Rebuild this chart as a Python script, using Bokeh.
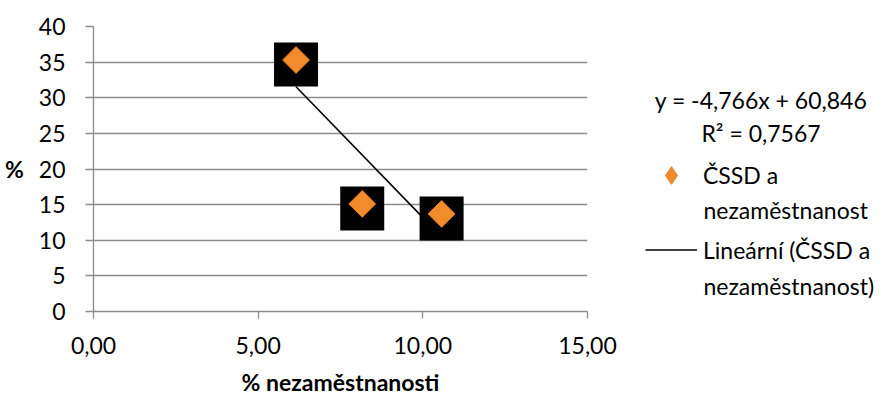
import math
from bokeh.plotting import figure
from bokeh.layouts import row
from bokeh.models import Range1d, FixedTicker, Legend, LegendItem, Label, ColumnDataSource
from bokeh.transform import dodge
from bokeh.core.properties import value
from bokeh.embed import file_html
from bokeh.resources import INLINE

# ---- data ----
unemployment = [6.15, 8.16, 10.57]        # % nezaměstnanosti
cssd_share = [35.3, 15.1, 13.7]           # %
trend_slope = -4.766
trend_intercept = 60.846
r_squared = 0.7567
x_ticks = [0, 5, 10, 15]
y_ticks = [0, 5, 10, 15, 20, 25, 30, 35, 40]
series_name = "ČSSD a nezaměstnanost"
x_title = "% nezaměstnanosti"
y_title = "%"

FONT = "Lato"
FS = "23px"
GRAY = "#8c8c8c"
ORANGE = "#f18b2b"
ORANGE_EDGE = "#e07b22"
H = 397
TOP, FRAME_H = 26, 285
FB = TOP + FRAME_H          # screen y of the (shared) frame bottom


def cz(v, d):
    return f"{v:.{d}f}".replace(".", ",")


# ---------------- main chart ----------------
p = figure(frame_width=494, frame_height=FRAME_H,
           x_range=Range1d(x_ticks[0], x_ticks[-1]), y_range=Range1d(y_ticks[0], y_ticks[-1]),
           output_backend="svg", toolbar_location=None,
           min_border_left=93, min_border_right=40, min_border_top=TOP, min_border_bottom=H - FB)
p.outline_line_color = None
p.background_fill_color = "white"
p.border_fill_color = "white"

p.xgrid.visible = False
p.ygrid.ticker = FixedTicker(ticks=y_ticks)
p.ygrid.grid_line_color = GRAY
p.ygrid.grid_line_width = 1.3

p.xaxis.ticker = FixedTicker(ticks=x_ticks)
p.xaxis.major_label_overrides = {t: cz(t, 2) for t in x_ticks}
p.yaxis.ticker = FixedTicker(ticks=y_ticks)
p.yaxis.major_label_overrides = {t: str(t) for t in y_ticks}
for ax in (p.xaxis, p.yaxis):
    ax.axis_line_color = GRAY
    ax.axis_line_width = 1.3
    ax.major_tick_line_color = GRAY
    ax.major_tick_line_width = 1.3
    ax.major_tick_in = 0
    ax.minor_tick_line_color = None
    ax.major_label_text_font = FONT
    ax.major_label_text_font_size = FS
    ax.major_label_text_color = "black"
    ax.axis_label_text_font = FONT
    ax.axis_label_text_font_size = FS
    ax.axis_label_text_font_style = "bold"
    ax.axis_label_text_color = "black"
p.xaxis.major_tick_out = 7
p.yaxis.major_tick_out = 8
p.xaxis.major_label_standoff = 18
p.yaxis.major_label_standoff = 20
p.xaxis.axis_label = x_title
p.xaxis.axis_label_standoff = 11
p.yaxis.axis_label = y_title
p.yaxis.axis_label_standoff = 12
if "axis_label_orientation" in p.yaxis[0].properties():
    p.yaxis.axis_label_orientation = "horizontal"

src = ColumnDataSource(dict(x=unemployment, y=cssd_share))
tx = [min(unemployment), max(unemployment)]
p.line(x=tx, y=[trend_slope * v + trend_intercept for v in tx], line_color="black", line_width=1.6)
p.scatter(x="x", y=dodge("y", -0.63, range=p.y_range), source=src, marker="square",
          size=44, fill_color="black", line_color=None)
p.scatter(x="x", y="y", source=src, marker="square", angle=math.pi / 4, size=19,
          fill_color=ORANGE, line_color=ORANGE_EDGE, line_width=1)

# ---------------- legend / equation panel ----------------
# (its frame is aligned with the main frame: screen y TOP..FB)
W2 = 891 - (93 + 494 + 40)
q = figure(width=W2, height=H, x_range=Range1d(0, 1), y_range=Range1d(0, 1),
           x_axis_location=None, y_axis_location=None,
           output_backend="svg", toolbar_location=None,
           min_border_left=0, min_border_right=0, min_border_top=0, min_border_bottom=0)
q.grid.visible = False
q.outline_line_color = None
q.background_fill_color = "white"
q.border_fill_color = "white"

# legend proxies: style only, their single point is NaN so nothing is drawn in the panel
proxy_src = ColumnDataSource(dict(x=[float("nan")], y=[float("nan")]))
marker_proxy = q.scatter(x="x", y="y", source=proxy_src, marker="diamond",
                         size=19, fill_color=ORANGE, line_color=ORANGE_EDGE, line_width=1)
line_proxy = q.line(x="x", y="y", source=proxy_src, line_color="black", line_width=1.6)

first, second = series_name.rsplit(" ", 1)
LEG_X = 18
GLYPH_W = 52
STANDOFF = 6
TEXT_X = LEG_X + GLYPH_W + STANDOFF


def make_legend(item, glyph_h, bottom_screen_y):
    lg = Legend(items=[item], location=(LEG_X, FB - bottom_screen_y), orientation="vertical",
                glyph_width=GLYPH_W, glyph_height=glyph_h, label_height=20, label_standoff=STANDOFF,
                spacing=0, padding=0, margin=0,
                label_text_font=FONT, label_text_font_size=FS, label_text_color="black",
                border_line_color=None, background_fill_alpha=0)
    q.add_layout(lg)


def text_line(txt, x, baseline_screen_y, align="left"):
    q.add_layout(Label(x=x, x_units="screen", y=FB - baseline_screen_y, y_units="screen",
                       text=txt, text_font=FONT, text_font_size=FS, text_align=align,
                       text_baseline="alphabetic", text_color="black"))


make_legend(LegendItem(label=value(first), renderers=[marker_proxy]), 44, 176 + 22)
text_line(second, TEXT_X, 210.5)
make_legend(LegendItem(label=value(f"Lineární ({first}"), renderers=[line_proxy]), 27, 251 + 13.8)
text_line(f"{second})", TEXT_X, 286)

text_line(f"y = {cz(trend_slope, 3)}x + {cz(trend_intercept, 3)}", 133.5, 100.7, "center")
text_line(f"R² = {cz(r_squared, 4)}", 133.5, 133.3, "center")

layout = row(p, q, spacing=0)
open("out.html", "w").write(file_html(layout, INLINE))
